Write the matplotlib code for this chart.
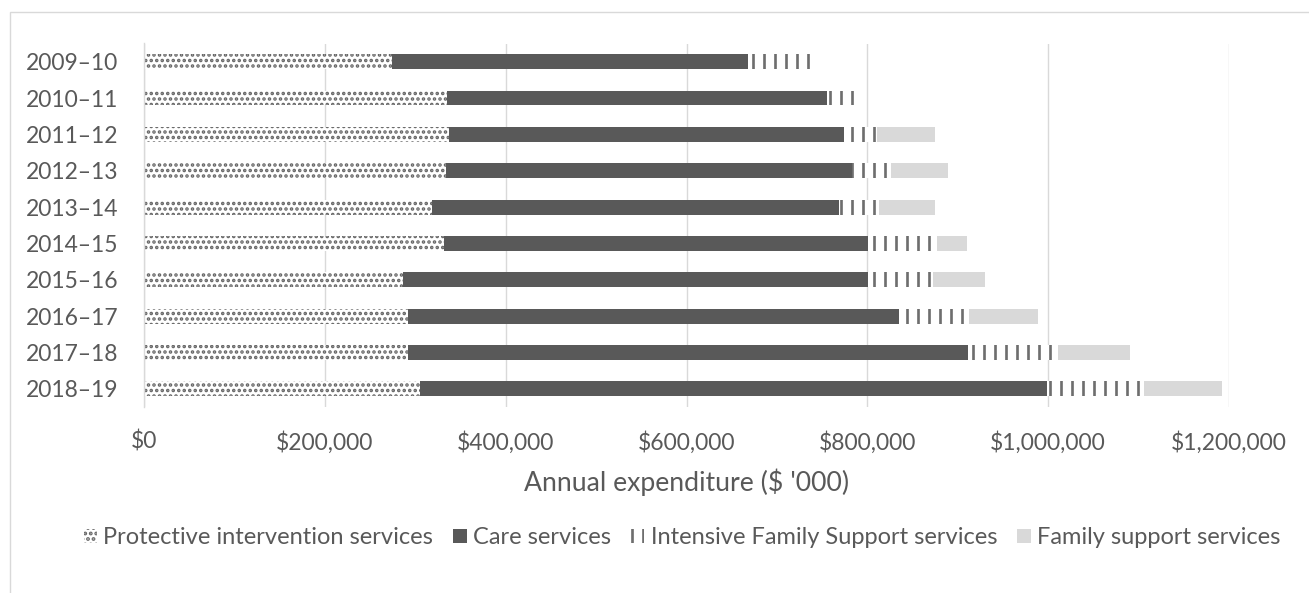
import matplotlib
matplotlib.use("Agg")
import matplotlib.pyplot as plt
from matplotlib.patches import Rectangle
from matplotlib.ticker import MultipleLocator, StrMethodFormatter

plt.rcParams['font.family'] = ['Lato', 'DejaVu Sans']

# annual expenditure, $ '000
years = ['2009–10', '2010–11', '2011–12', '2012–13', '2013–14',
         '2014–15', '2015–16', '2016–17', '2017–18', '2018–19']
protective = [274600, 335400, 337200, 333500, 318400, 331700, 286000, 291900, 291900, 305000]
care = [393400, 419600, 436800, 449300, 450000, 468700, 514400, 542900, 619100, 693700]
intensive = [75000, 35800, 36400, 43800, 44200, 76600, 71900, 77200, 99500, 106900]
family = [0, 0, 64100, 62300, 61900, 33000, 57500, 76400, 79500, 86200]

labels = ['Protective intervention services', 'Care services',
          'Intensive Family Support services', 'Family support services']

textcol = '#595959'
gridcol = '#d9d9d9'

W, H, DPI = 1309, 593, 132
fig, ax = plt.subplots(figsize=(W / DPI, H / DPI), dpi=DPI)
fig.subplots_adjust(left=144 / W, right=1229 / W, top=1 - 43.5 / H, bottom=1 - 407 / H)

pos = list(range(len(years)))
h = 0.41
left = [0] * len(years)

plt.rcParams['hatch.linewidth'] = 1.3
plt.rcParams['hatch.color'] = '#666666'
b1 = ax.barh(pos, protective, height=h, left=left, color='white', edgecolor='#666666',
             linewidth=0, hatch='....', label=labels[0])
left = [a + b for a, b in zip(left, protective)]
b2 = ax.barh(pos, care, height=h, left=left, color='#595959', linewidth=0, label=labels[1])
left = [a + b for a, b in zip(left, care)]
plt.rcParams['hatch.linewidth'] = 1.45
plt.rcParams['hatch.color'] = '#6e6e6e'
b3 = ax.barh(pos, intensive, height=h, left=left, color='white', edgecolor='#6e6e6e',
             linewidth=0, hatch='||', label=labels[2])
left = [a + b for a, b in zip(left, intensive)]
b4 = ax.barh(pos, family, height=h, left=left, color='#d9d9d9', linewidth=0, label=labels[3])

ax.set_yticks(pos)
ax.set_yticklabels(years)
ax.set_ylim(len(years) - 0.5, -0.5)
ax.set_xlim(0, 1200000)
ax.xaxis.set_major_locator(MultipleLocator(200000))
ax.xaxis.set_major_formatter(StrMethodFormatter('${x:,.0f}'))

ax.grid(axis='x', color=gridcol, linewidth=0.75)
ax.set_axisbelow(True)
for s in ['top', 'right', 'bottom']:
    ax.spines[s].set_visible(False)
ax.spines['left'].set_color(gridcol)
ax.spines['left'].set_linewidth(0.75)
ax.tick_params(axis='both', length=0, labelsize=12.5, colors=textcol)
ax.tick_params(axis='y', pad=14)
ax.tick_params(axis='x', pad=13)

ax.set_xlabel("Annual expenditure ($ '000)", fontsize=14.5, color=textcol, labelpad=8)

fig.legend(handles=[b1, b2, b3, b4], loc='center', bbox_to_anchor=(682 / W, 1 - 538 / H),
           ncol=4, frameon=False, fontsize=12.9, labelcolor=textcol,
           handlelength=0.56, handleheight=0.56, handletextpad=0.26, columnspacing=0.86)

fig.patches.append(Rectangle((10 / W, -0.2), 1.2, 1.2 - 12 / H, transform=fig.transFigure,
                             fill=False, edgecolor=gridcol, linewidth=0.75))

fig.savefig('out.png', dpi=DPI)
